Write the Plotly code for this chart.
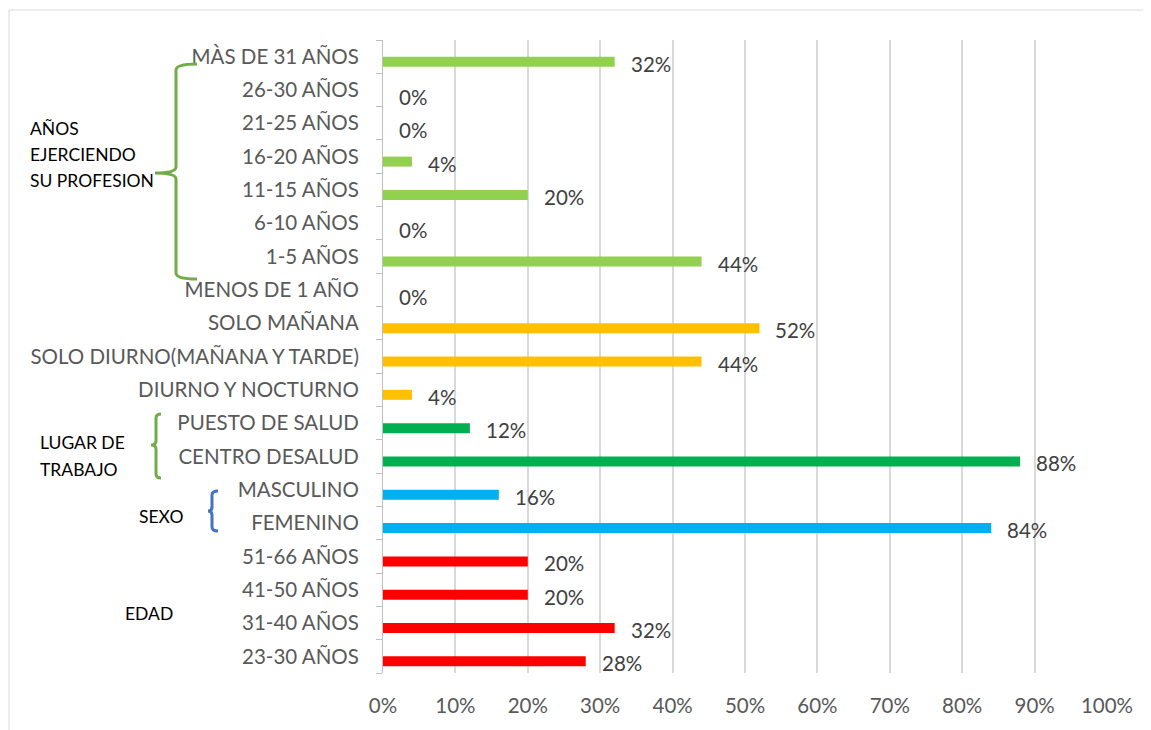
import plotly.graph_objects as go

# ---------------- data ----------------
edad_cats = ["23-30 AÑOS", "31-40 AÑOS", "41-50 AÑOS", "51-66 AÑOS"]
edad_vals = [0.28, 0.32, 0.20, 0.20]

sexo_cats = ["FEMENINO", "MASCULINO"]
sexo_vals = [0.84, 0.16]

lugar_cats = ["CENTRO DESALUD", "PUESTO DE SALUD"]
lugar_vals = [0.88, 0.12]

turno_cats = ["DIURNO Y NOCTURNO", "SOLO DIURNO(MAÑANA Y TARDE)", "SOLO MAÑANA"]
turno_vals = [0.04, 0.44, 0.52]

anios_cats = ["MENOS DE 1 AÑO", "1-5 AÑOS", "6-10 AÑOS", "11-15 AÑOS",
              "16-20 AÑOS", "21-25 AÑOS", "26-30 AÑOS", "MÀS DE 31 AÑOS"]
anios_vals = [0.0, 0.44, 0.0, 0.20, 0.04, 0.0, 0.0, 0.32]

x_ticks = [0, 0.1, 0.2, 0.3, 0.4, 0.5, 0.6, 0.7, 0.8, 0.9, 1.0]

groups = [
    (edad_cats, edad_vals, "#FF0000"),
    (sexo_cats, sexo_vals, "#00B0F0"),
    (lugar_cats, lugar_vals, "#00B050"),
    (turno_cats, turno_vals, "#FFC000"),
    (anios_cats, anios_vals, "#92D050"),
]
all_cats = edad_cats + sexo_cats + lugar_cats + turno_cats + anios_cats

# ---------------- layout geometry (page pixels) ----------------
OX, OY = 8, 8          # default page body margin
W, H = 1151 - OX, 730 - OY
L, R, T, B = 383, 1107, 40, 673
FONT = "Lato"
FS = 20.5


def px(x):
    return (x - L) / (R - L)


def py(y):
    return (B - y) / (B - T)


fig = go.Figure()
for cats, vals, col in groups:
    fig.add_trace(go.Bar(
        y=cats, x=vals, orientation="h",
        marker=dict(color=col, line=dict(width=0)),
        width=0.3, offset=-0.3,
        hoverinfo="x+y", showlegend=False,
    ))

annotations = []
for cats, vals, col in groups:
    for c, v in zip(cats, vals):
        annotations.append(dict(
            x=v, y=c, xref="x", yref="y", text=f"{round(v * 100)}%",
            showarrow=False, xanchor="left", yanchor="middle",
            xshift=14, yshift=-7,
            font=dict(family=FONT, size=FS, color="#404040"),
        ))


def label(text, x, y):
    annotations.append(dict(
        x=px(x), y=py(y), xref="paper", yref="paper", text=text,
        showarrow=False, xanchor="left", yanchor="middle",
        font=dict(family=FONT, size=17.5, color="#000000"),
    ))


label("AÑOS", 28, 128)
label("EJERCIENDO", 28, 154)
label("SU PROFESION", 28, 180)
label("LUGAR DE", 38, 443)
label("TRABAJO", 38, 469)
label("SEXO", 137, 516)
label("EDAD", 123, 613)


def brace_path(xv, x_arm, x_tip, y_top, y_mid, y_bot, r):
    pts = [
        ("M", [(x_arm, y_top)]),
        ("Q", [(xv, y_top), (xv, y_top + r)]),
        ("L", [(xv, y_mid - r)]),
        ("Q", [(xv, y_mid), (x_tip, y_mid)]),
        ("Q", [(xv, y_mid), (xv, y_mid + r)]),
        ("L", [(xv, y_bot - r)]),
        ("Q", [(xv, y_bot), (x_arm, y_bot)]),
    ]
    s = ""
    for cmd, ps in pts:
        s += cmd + " " + " ".join(f"{px(a):.5f},{py(b):.5f}" for a, b in ps) + " "
    return s.strip()


shapes = [
    # outer chart border
    dict(type="rect", xref="paper", yref="paper",
         x0=px(9), x1=px(1165), y0=py(10), y1=py(745),
         line=dict(color="#D9D9D9", width=1), layer="below"),
    dict(type="path", xref="paper", yref="paper",
         path=brace_path(176, 197, 155, 64, 173, 279, 6),
         line=dict(color="#70AD47", width=3)),
    dict(type="path", xref="paper", yref="paper",
         path=brace_path(156, 161, 151, 414, 445, 478, 4),
         line=dict(color="#70AD47", width=3)),
    dict(type="path", xref="paper", yref="paper",
         path=brace_path(212, 218, 208, 491, 511, 531, 4),
         line=dict(color="#4472C4", width=3)),
]

fig.update_layout(
    width=W, height=H,
    margin=dict(l=L - OX, r=1151 - R, t=T - OY, b=730 - B, pad=0),
    paper_bgcolor="white", plot_bgcolor="white",
    barmode="overlay",
    font=dict(family=FONT, size=FS, color="#595959"),
    annotations=annotations,
    shapes=shapes,
    xaxis=dict(
        range=[0, 1], tickvals=x_ticks, tickformat=".0%",
        showgrid=True, gridcolor="#D9D9D9", gridwidth=1.5,
        zeroline=False, showline=False, ticks="",
        ticklabelstandoff=18,
        tickfont=dict(family=FONT, size=FS, color="#595959"),
        fixedrange=True,
    ),
    yaxis=dict(
        type="category", categoryorder="array", categoryarray=all_cats,
        range=[-0.5, len(all_cats) - 0.5],
        showgrid=False, zeroline=False,
        showline=True, linecolor="#BFBFBF", linewidth=1,
        ticks="outside", tickson="boundaries", ticklen=6, tickcolor="#BFBFBF",
        ticklabelstandoff=19,
        tickfont=dict(family=FONT, size=FS, color="#595959"),
        fixedrange=True,
    ),
)

fig.write_html("out.html")
